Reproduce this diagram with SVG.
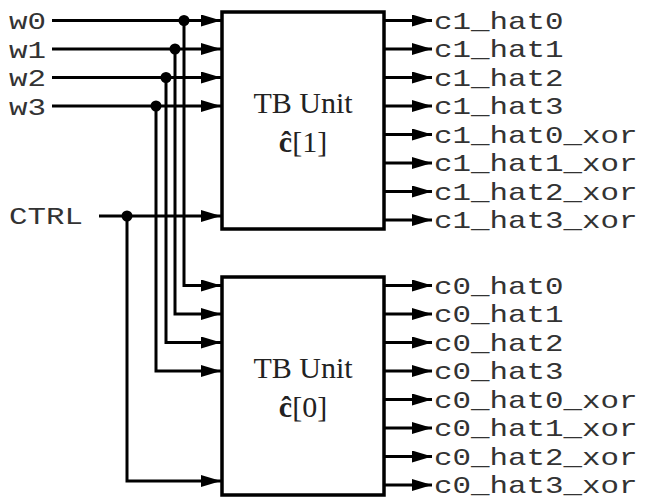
<svg xmlns="http://www.w3.org/2000/svg" width="646" height="501" viewBox="0 0 646 501">
<style>
.w{stroke:#000;stroke-width:3;fill:none;stroke-linejoin:miter}
.box{fill:#fff;stroke:#000;stroke-width:3.5}
.lbl{font-family:"Liberation Mono","Courier New",monospace;font-size:24px;fill:#333}
.unit{font-family:"Liberation Serif","Times New Roman",serif;font-size:30px;fill:#222;text-anchor:middle}
.dot{fill:#000}
</style>
<defs>
<marker id="ah" markerUnits="userSpaceOnUse" markerWidth="20" markerHeight="12" refX="20" refY="6" orient="auto">
<path d="M0,0 L20,6 L0,12 z" fill="#000"/>
</marker>
</defs>
<rect width="646" height="501" fill="#fff"/>
<g id="connectors">
<path class="w" d="M52,20.5 H221" marker-end="url(#ah)"/>
<path class="w" d="M52,49 H221" marker-end="url(#ah)"/>
<path class="w" d="M52,77.5 H221" marker-end="url(#ah)"/>
<path class="w" d="M52,106 H221" marker-end="url(#ah)"/>
<path class="w" d="M99,216 H221" marker-end="url(#ah)"/>
<path class="w" d="M184,20.5 V285.5 H221" marker-end="url(#ah)"/>
<path class="w" d="M175,49 V314 H221" marker-end="url(#ah)"/>
<path class="w" d="M166,77.5 V342.5 H221" marker-end="url(#ah)"/>
<path class="w" d="M156,106 V371 H221" marker-end="url(#ah)"/>
<path class="w" d="M127,216 V481 H221" marker-end="url(#ah)"/>
<circle class="dot" cx="184" cy="20.5" r="5.5"/>
<circle class="dot" cx="175" cy="49" r="5.5"/>
<circle class="dot" cx="166" cy="77.5" r="5.5"/>
<circle class="dot" cx="156" cy="106" r="5.5"/>
<circle class="dot" cx="127" cy="216" r="5.5"/>
<path class="w" d="M384,20.5 H432" marker-end="url(#ah)"/>
<path class="w" d="M384,49 H432" marker-end="url(#ah)"/>
<path class="w" d="M384,77.5 H432" marker-end="url(#ah)"/>
<path class="w" d="M384,106 H432" marker-end="url(#ah)"/>
<path class="w" d="M384,134.5 H432" marker-end="url(#ah)"/>
<path class="w" d="M384,163 H432" marker-end="url(#ah)"/>
<path class="w" d="M384,191.5 H432" marker-end="url(#ah)"/>
<path class="w" d="M384,220 H432" marker-end="url(#ah)"/>
<path class="w" d="M384,285.5 H432" marker-end="url(#ah)"/>
<path class="w" d="M384,314 H432" marker-end="url(#ah)"/>
<path class="w" d="M384,342.5 H432" marker-end="url(#ah)"/>
<path class="w" d="M384,371 H432" marker-end="url(#ah)"/>
<path class="w" d="M384,399.5 H432" marker-end="url(#ah)"/>
<path class="w" d="M384,428 H432" marker-end="url(#ah)"/>
<path class="w" d="M384,456.5 H432" marker-end="url(#ah)"/>
<path class="w" d="M384,485 H432" marker-end="url(#ah)"/>
</g>
<g id="inputs">
<text class="lbl" x="9" y="29" textLength="37" lengthAdjust="spacingAndGlyphs">w0</text>
<text class="lbl" x="9" y="57.5" textLength="37" lengthAdjust="spacingAndGlyphs">w1</text>
<text class="lbl" x="9" y="86" textLength="37" lengthAdjust="spacingAndGlyphs">w2</text>
<text class="lbl" x="9" y="114.5" textLength="37" lengthAdjust="spacingAndGlyphs">w3</text>
<text class="lbl" x="9" y="224" textLength="74" lengthAdjust="spacingAndGlyphs">CTRL</text>
</g>
<g id="tb1">
<rect class="box" x="222" y="12" width="162" height="217"/>
<text class="unit" x="303" y="113">TB Unit</text>
<text class="unit" x="303" y="152"><tspan font-weight="bold">ĉ</tspan>[1]</text>
</g>
<g id="tb0">
<rect class="box" x="222" y="277" width="162" height="218"/>
<text class="unit" x="303" y="378">TB Unit</text>
<text class="unit" x="303" y="417"><tspan font-weight="bold">ĉ</tspan>[0]</text>
</g>
<g id="outputs1">
<text class="lbl" x="434" y="28.5" textLength="129.5" lengthAdjust="spacingAndGlyphs">c1_hat0</text>
<text class="lbl" x="434" y="57" textLength="129.5" lengthAdjust="spacingAndGlyphs">c1_hat1</text>
<text class="lbl" x="434" y="85.5" textLength="129.5" lengthAdjust="spacingAndGlyphs">c1_hat2</text>
<text class="lbl" x="434" y="114" textLength="129.5" lengthAdjust="spacingAndGlyphs">c1_hat3</text>
<text class="lbl" x="434" y="142.5" textLength="203.5" lengthAdjust="spacingAndGlyphs">c1_hat0_xor</text>
<text class="lbl" x="434" y="171" textLength="203.5" lengthAdjust="spacingAndGlyphs">c1_hat1_xor</text>
<text class="lbl" x="434" y="199.5" textLength="203.5" lengthAdjust="spacingAndGlyphs">c1_hat2_xor</text>
<text class="lbl" x="434" y="228" textLength="203.5" lengthAdjust="spacingAndGlyphs">c1_hat3_xor</text>
</g>
<g id="outputs0">
<text class="lbl" x="434" y="293.5" textLength="129.5" lengthAdjust="spacingAndGlyphs">c0_hat0</text>
<text class="lbl" x="434" y="322" textLength="129.5" lengthAdjust="spacingAndGlyphs">c0_hat1</text>
<text class="lbl" x="434" y="350.5" textLength="129.5" lengthAdjust="spacingAndGlyphs">c0_hat2</text>
<text class="lbl" x="434" y="379" textLength="129.5" lengthAdjust="spacingAndGlyphs">c0_hat3</text>
<text class="lbl" x="434" y="407.5" textLength="203.5" lengthAdjust="spacingAndGlyphs">c0_hat0_xor</text>
<text class="lbl" x="434" y="436" textLength="203.5" lengthAdjust="spacingAndGlyphs">c0_hat1_xor</text>
<text class="lbl" x="434" y="464.5" textLength="203.5" lengthAdjust="spacingAndGlyphs">c0_hat2_xor</text>
<text class="lbl" x="434" y="493" textLength="203.5" lengthAdjust="spacingAndGlyphs">c0_hat3_xor</text>
</g>
</svg>
